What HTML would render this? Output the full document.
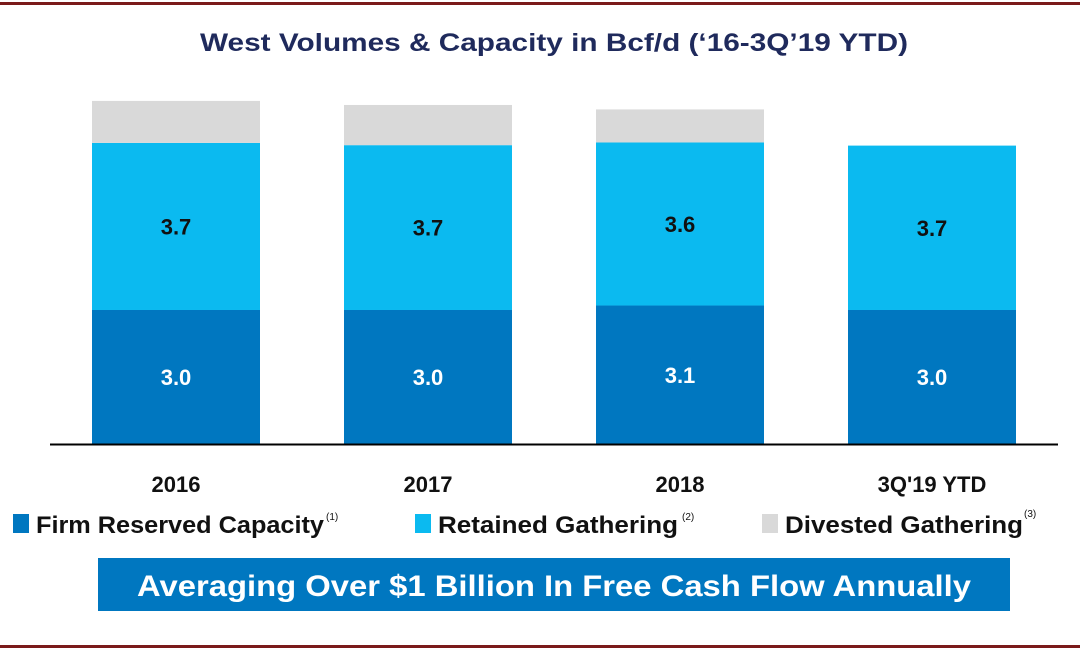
<!DOCTYPE html>
<html><head><meta charset="utf-8"><style>
body{margin:0;background:#fff;}
svg text{font-family:"Liberation Sans",sans-serif;}
</style></head><body>
<svg width="1080" height="652" viewBox="0 0 1080 652" xmlns="http://www.w3.org/2000/svg" id="chart">
<rect x="0" y="2" width="1080" height="3" fill="#7a1a1a"/>
<rect x="0" y="645" width="1080" height="3" fill="#7a1a1a"/>
<text x="554" y="51" text-anchor="middle" font-size="25" font-weight="bold" fill="#1f2a5c" textLength="708" lengthAdjust="spacingAndGlyphs">West Volumes &amp; Capacity in Bcf/d (‘16-3Q’19 YTD)</text>
<g id="bars"></g>
<line x1="50" y1="444.5" x2="1058" y2="444.5" stroke="#000" stroke-width="2"/>
<g>
<rect x="13" y="514" width="16" height="19" fill="#0077c0"/>
<text x="36" y="533" font-size="24" font-weight="bold" fill="#111" textLength="288" lengthAdjust="spacingAndGlyphs">Firm Reserved Capacity</text>
<text x="326" y="520" font-size="10" fill="#111">(1)</text>
<rect x="415" y="514" width="16" height="19" fill="#0bbaf0"/>
<text x="438" y="533" font-size="24" font-weight="bold" fill="#111" textLength="240" lengthAdjust="spacingAndGlyphs">Retained Gathering</text>
<text x="682" y="520" font-size="10" fill="#111">(2)</text>
<rect x="762" y="514" width="16" height="19" fill="#d9d9d9"/>
<text x="785" y="533" font-size="24" font-weight="bold" fill="#111" textLength="238" lengthAdjust="spacingAndGlyphs">Divested Gathering</text>
<text x="1024" y="517" font-size="10" fill="#111">(3)</text>
</g>
<rect x="98" y="558" width="912" height="53" fill="#0077c0"/>
<text x="554" y="596" text-anchor="middle" font-size="30" font-weight="bold" fill="#fff" textLength="834" lengthAdjust="spacingAndGlyphs">Averaging Over $1 Billion In Free Cash Flow Annually</text>
</svg>
<script>
const categories=["2016","2017","2018","3Q'19 YTD"];
const firmValues=[3.0,3.0,3.1,3.0];
const retainedValues=[3.7,3.7,3.6,3.7];
const divestedValues=[0.94,0.9,0.74,0];
const firmLabels=["3.0","3.0","3.1","3.0"];
const retainedLabels=["3.7","3.7","3.6","3.7"];
const retainedPlot=[3.74,3.69,3.65,3.68];
const NS="http://www.w3.org/2000/svg";
const baseY=444, pxPerUnit=44.67, x0=92, step=252, bw=168;
function y(v){return baseY-v*pxPerUnit;}
function xb(i){return x0+i*step;}
const g=document.getElementById('bars');
function rect(x,y1,h,fill,name){const r=document.createElementNS(NS,'rect');
r.setAttribute('x',x);r.setAttribute('y',y1);r.setAttribute('width',bw);r.setAttribute('height',Math.max(0,h));r.setAttribute('fill',fill);


g.appendChild(r);}
function txt(x,y1,s,size,fill,name){const t=document.createElementNS(NS,'text');
t.setAttribute('x',x);t.setAttribute('y',y1);t.setAttribute('text-anchor','middle');t.setAttribute('font-size',size);t.setAttribute('font-weight','bold');t.setAttribute('fill',fill);t.textContent=s;


g.appendChild(t);}
categories.forEach((c,i)=>{
const f=firmValues[i], r=retainedPlot[i], d=divestedValues[i];
const x=xb(i);
rect(x,y(f),f*pxPerUnit,'#0077c0','bar-firm-'+i);
rect(x,y(f+r),r*pxPerUnit,'#0bbaf0','bar-retained-'+i);
if(d>0) rect(x,y(f+r+d),d*pxPerUnit,'#d9d9d9','bar-divested-'+i);
txt(x+bw/2,(y(f)+baseY)/2+8,firmLabels[i],22,'#fff','label-firm-'+i);
txt(x+bw/2,(y(f)+y(f+r))/2+8,retainedLabels[i],22,'#111','label-retained-'+i);
txt(x+bw/2,492,c,22,'#111','x-tick-'+i);
});
</script>
</body></html>
